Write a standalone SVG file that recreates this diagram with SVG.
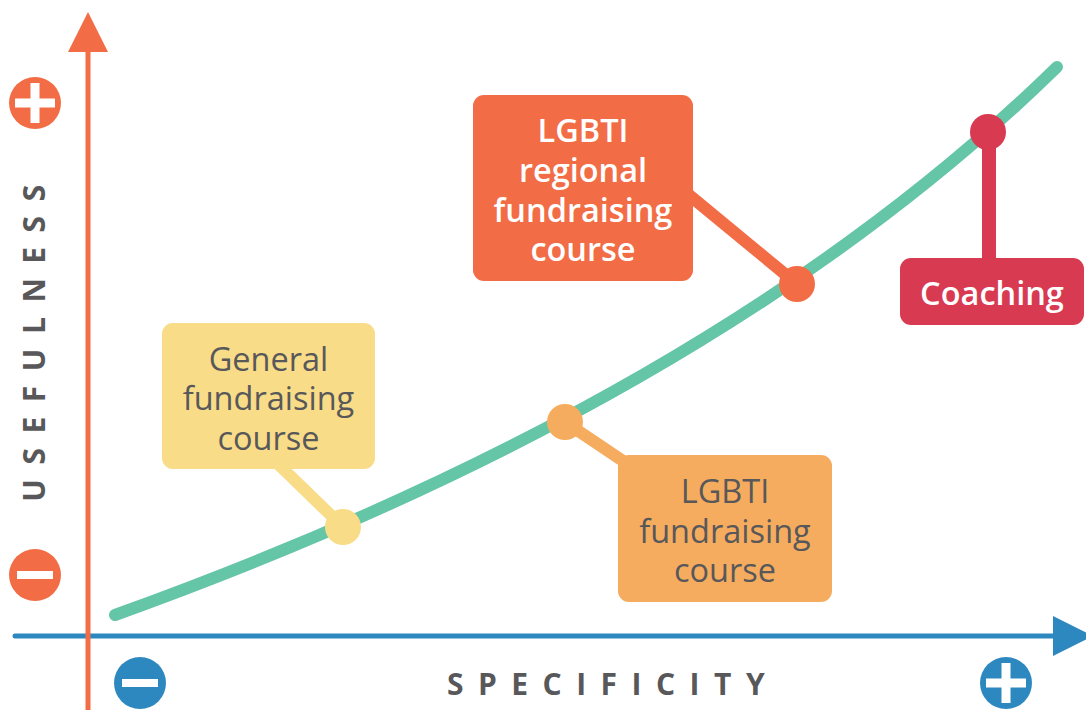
<svg xmlns="http://www.w3.org/2000/svg" width="1086" height="710" viewBox="0 0 1086 710">
  <style>
    .lbl { font-family: "Open Sans", "Noto Sans", "Liberation Sans", sans-serif; font-size: 32.5px; text-anchor: middle; }
    .dark { fill: #58585A; }
    .light { fill: #FFFFFF; font-weight: 600; }
    .axis-title { font-family: "Open Sans", "Noto Sans", "Liberation Sans", sans-serif; font-size: 30px; font-weight: 700; fill: #58585A; letter-spacing: 14.5px; }
    .bar { fill: #FFFFFF; }
  </style>

  <!-- axes -->
  <g id="axes">
    <line x1="15" y1="636" x2="1060" y2="636" stroke="#2E88C0" stroke-width="5" stroke-linecap="round"/>
    <polygon points="1053,616 1093,636 1053,656" fill="#2E88C0"/>
    <line x1="88" y1="50" x2="88" y2="712" stroke="#F26C46" stroke-width="5"/>
    <polygon points="68,52 88,12 108,52" fill="#F26C46"/>
  </g>

  <!-- axis end markers -->
  <g id="usefulness-plus">
    <circle cx="35" cy="103" r="26" fill="#F26C46"/>
    <rect class="bar" x="15" y="98.5" width="40" height="9"/>
    <rect class="bar" x="30.5" y="83" width="9" height="40"/>
  </g>
  <g id="usefulness-minus">
    <circle cx="35" cy="575" r="26" fill="#F26C46"/>
    <rect class="bar" x="17" y="571" width="36" height="8"/>
  </g>
  <g id="specificity-minus">
    <circle cx="140" cy="683" r="26" fill="#2E88C0"/>
    <rect class="bar" x="122" y="679" width="36" height="8"/>
  </g>
  <g id="specificity-plus">
    <circle cx="1006" cy="683" r="26" fill="#2E88C0"/>
    <rect class="bar" x="986" y="678.5" width="40" height="9"/>
    <rect class="bar" x="1001.5" y="663" width="9" height="40"/>
  </g>

  <!-- axis titles -->
  <text id="specificity-title" class="axis-title" x="613" y="695" text-anchor="middle">SPECIFICITY</text>
  <text id="usefulness-title" class="axis-title" transform="translate(45,336) rotate(-90)" text-anchor="middle">USEFULNESS</text>

  <!-- usefulness curve -->
  <path id="curve" d="M115,615 C415,507 780,338 1057,67" fill="none" stroke="#64C5A7" stroke-width="12" stroke-linecap="round"/>

  <!-- leader lines from labels to curve points -->
  <g id="connectors" stroke-linecap="round">
    <line x1="276" y1="462" x2="343" y2="527" stroke="#F9DC88" stroke-width="12"/>
    <line x1="565" y1="422" x2="632" y2="467" stroke="#F6AC5F" stroke-width="12"/>
    <line x1="683" y1="190" x2="797" y2="284" stroke="#F26C46" stroke-width="12"/>
    <line x1="989" y1="132" x2="989" y2="264" stroke="#D83A51" stroke-width="14" stroke-linecap="butt"/>
  </g>

  <g id="general-course">
    <rect x="162" y="323" width="213" height="146" rx="11" fill="#F9DC88"/>
    <text class="lbl dark" x="268.5" y="371">General</text>
    <text class="lbl dark" x="268.5" y="410">fundraising</text>
    <text class="lbl dark" x="268.5" y="450">course</text>
    <circle cx="343" cy="527" r="18" fill="#F9DC88"/>
  </g>

  <g id="lgbti-course">
    <rect x="618" y="455" width="214" height="147" rx="11" fill="#F6AC5F"/>
    <text class="lbl dark" x="725" y="503">LGBTI</text>
    <text class="lbl dark" x="725" y="543">fundraising</text>
    <text class="lbl dark" x="725" y="582">course</text>
    <circle cx="565" cy="422" r="18" fill="#F6AC5F"/>
  </g>

  <g id="lgbti-regional-course">
    <rect x="473" y="95" width="220" height="186" rx="11" fill="#F26C46"/>
    <text class="lbl light" x="583" y="142">LGBTI</text>
    <text class="lbl light" x="583" y="182">regional</text>
    <text class="lbl light" x="583" y="222">fundraising</text>
    <text class="lbl light" x="583" y="261">course</text>
    <circle cx="797" cy="284" r="18" fill="#F26C46"/>
  </g>

  <g id="coaching">
    <rect x="900" y="258" width="184" height="67" rx="11" fill="#D83A51"/>
    <text class="lbl light" x="992" y="305">Coaching</text>
    <circle cx="988" cy="132" r="18" fill="#D83A51"/>
  </g>
</svg>
